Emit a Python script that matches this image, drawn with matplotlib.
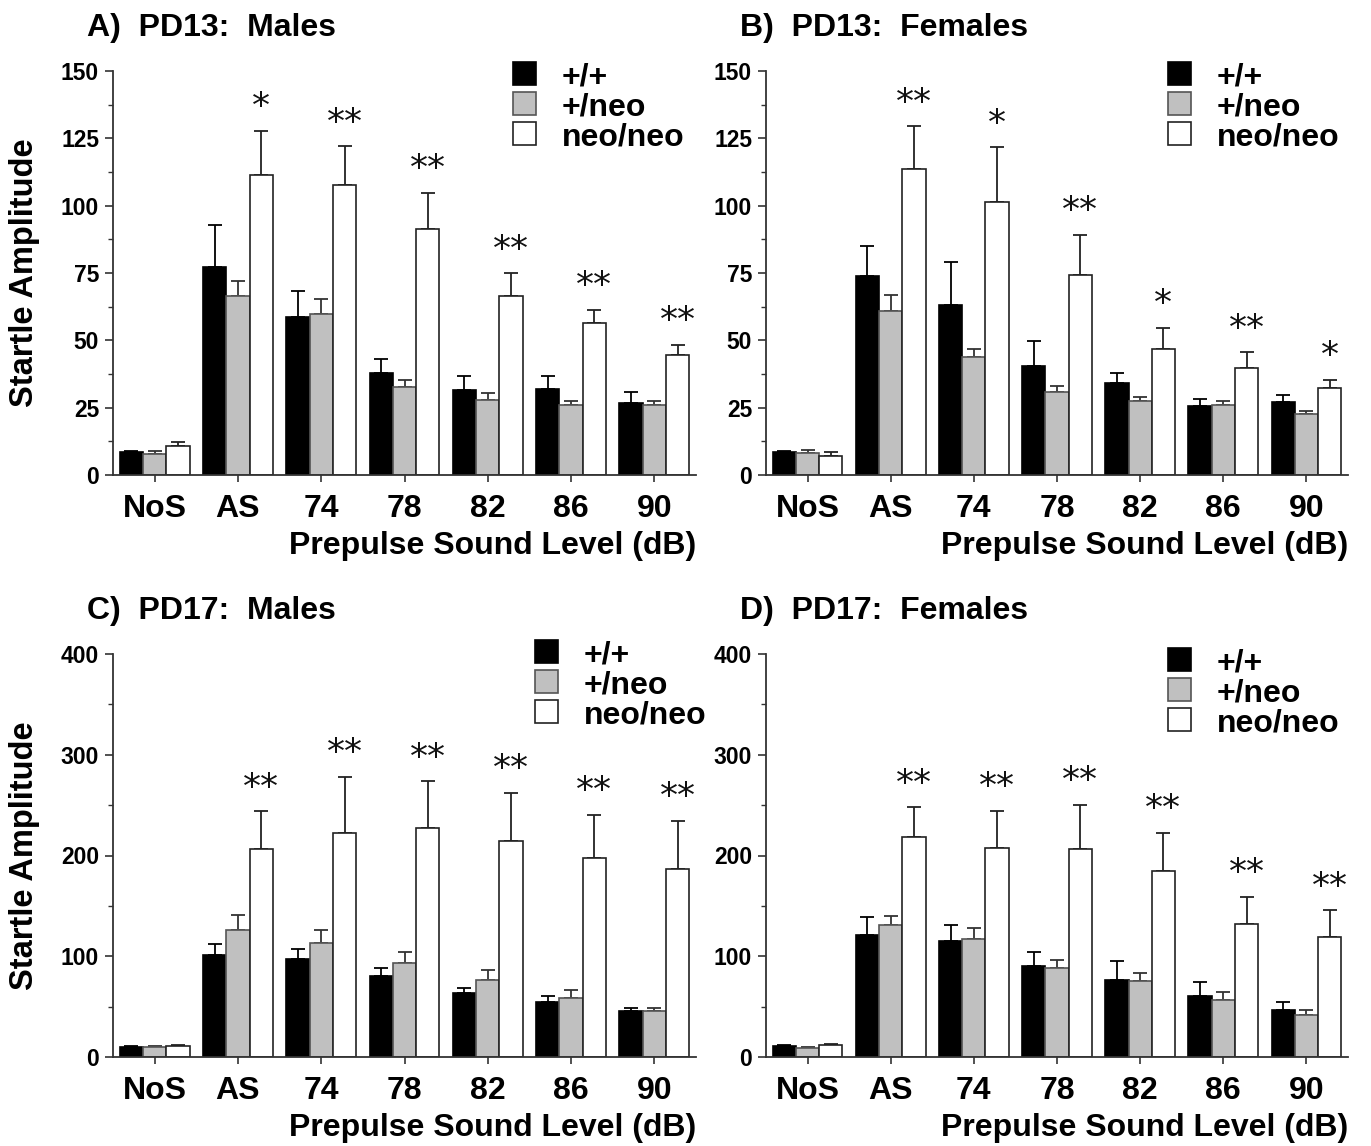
import matplotlib
matplotlib.use("Agg")
import matplotlib.pyplot as plt
import numpy as np
from matplotlib.ticker import MultipleLocator

plt.rcParams['font.family'] = ['Liberation Sans', 'DejaVu Sans']
plt.rcParams['font.weight'] = 'bold'

categories = ['NoS', 'AS', '74', '78', '82', '86', '90']
genotypes = ['+/+', '+/neo', 'neo/neo']

# Panel A: PD13 Males
A_wt = [8.5, 77.4, 58.7, 37.9, 31.5, 32.0, 26.6]
A_wt_err = [0.3, 15.6, 9.8, 5.0, 5.4, 4.9, 4.2]
A_het = [7.7, 66.4, 59.6, 32.8, 27.9, 25.9, 25.9]
A_het_err = [1.3, 5.5, 5.8, 2.6, 2.4, 1.7, 1.7]
A_hom = [10.8, 111.3, 107.5, 91.5, 66.4, 56.5, 44.4]
A_hom_err = [1.6, 16.4, 14.6, 13.2, 8.5, 4.9, 3.9]
A_sig = ['', '*', '**', '**', '**', '**', '**']

# Panel B: PD13 Females
B_wt = [8.5, 74.0, 63.2, 40.5, 34.1, 25.6, 27.1]
B_wt_err = [0.5, 11.2, 16.0, 9.3, 3.7, 2.8, 2.5]
B_het = [8.3, 60.9, 43.9, 30.8, 27.4, 25.9, 22.6]
B_het_err = [1.0, 5.9, 2.7, 2.2, 1.6, 1.5, 1.0]
B_hom = [7.2, 113.6, 101.5, 74.4, 46.6, 39.8, 32.3]
B_hom_err = [1.3, 15.8, 20.1, 14.8, 8.1, 5.8, 3.1]
B_sig = ['', '**', '*', '**', '*', '**', '*']

# Panel C: PD17 Males
C_wt = [10.0, 101.5, 97.2, 80.0, 63.5, 54.2, 45.3]
C_wt_err = [0.5, 10.5, 10.2, 8.3, 4.9, 6.6, 3.3]
C_het = [10.0, 126.3, 113.0, 93.2, 76.0, 58.2, 45.3]
C_het_err = [1.0, 14.2, 13.3, 10.6, 10.6, 8.6, 3.3]
C_hom = [11.2, 206.3, 222.8, 227.1, 213.9, 198.0, 186.4]
C_hom_err = [1.0, 37.7, 55.2, 46.6, 48.2, 42.3, 48.3]
C_sig = ['', '**', '**', '**', '**', '**', '**']

# Panel D: PD17 Females
D_wt = [10.6, 121.0, 114.7, 89.9, 76.7, 60.8, 46.9]
D_wt_err = [1.0, 17.5, 16.5, 13.9, 18.2, 13.2, 7.3]
D_het = [8.9, 131.2, 117.0, 87.9, 75.0, 56.9, 42.0]
D_het_err = [1.0, 8.3, 10.6, 8.0, 8.3, 7.9, 4.9]
D_hom = [11.6, 218.2, 207.3, 206.3, 185.1, 132.2, 119.0]
D_hom_err = [1.3, 29.7, 37.0, 44.3, 37.7, 26.5, 26.5]
D_sig = ['', '**', '**', '**', '**', '**', '**']

titles = ['A)  PD13:  Males', 'B)  PD13:  Females', 'C)  PD17:  Males', 'D)  PD17:  Females']

W, H = 1371, 1146
fig = plt.figure(figsize=(W / 100, H / 100), dpi=100)

def rect(l, r, t, b):
    return [l / W, 1 - b / H, (r - l) / W, (b - t) / H]

panels = [
    dict(pos=rect(113, 696, 71, 475), data=(A_wt, A_het, A_hom), err=(A_wt_err, A_het_err, A_hom_err),
         sig=A_sig, ymax=150, major=25, minor=12.5, title_xy=(87, 36), leg_xy=(513, 62), ylabel=True),
    dict(pos=rect(766, 1348, 71, 475), data=(B_wt, B_het, B_hom), err=(B_wt_err, B_het_err, B_hom_err),
         sig=B_sig, ymax=150, major=25, minor=12.5, title_xy=(740, 36), leg_xy=(1168, 62), ylabel=False),
    dict(pos=rect(113, 696, 654, 1057), data=(C_wt, C_het, C_hom), err=(C_wt_err, C_het_err, C_hom_err),
         sig=C_sig, ymax=400, major=100, minor=50, title_xy=(87, 619), leg_xy=(535, 640), ylabel=True),
    dict(pos=rect(766, 1348, 654, 1057), data=(D_wt, D_het, D_hom), err=(D_wt_err, D_het_err, D_hom_err),
         sig=D_sig, ymax=400, major=100, minor=50, title_xy=(740, 619), leg_xy=(1168, 648), ylabel=False),
]

face = ['black', '#c0c0c0', 'white']
edge = ['black', '#555555', '#222222']
ecol = ['black', '#333333', '#222222']
bw = 0.28
offsets = [-bw, 0, bw]
x = np.arange(len(categories))

for i, p in enumerate(panels):
    ax = fig.add_axes(p['pos'])
    handles = []
    for k in range(3):
        vals = np.array(p['data'][k])
        errs = np.array(p['err'][k])
        b = ax.bar(x + offsets[k], vals, width=bw, color=face[k], edgecolor=edge[k],
                   linewidth=1.2, label=genotypes[k], zorder=2)
        handles.append(b)
        ax.errorbar(x + offsets[k], vals, yerr=[np.zeros_like(errs), errs], fmt='none',
                    ecolor=ecol[k], elinewidth=1.3, capsize=5, capthick=1.3, zorder=1)
    hom = np.array(p['data'][2]) + np.array(p['err'][2])
    for j, s in enumerate(p['sig']):
        if s:
            ax.annotate(s, xy=(x[j] + offsets[2], hom[j]), xytext=(0, 17), textcoords='offset points',
                        ha='center', va='center', fontsize=26, fontweight='normal',
                        family='DejaVu Sans', color='#111111')
    ax.set_xlim(-0.5, len(categories) - 0.5)
    ax.set_ylim(0, p['ymax'])
    ax.yaxis.set_major_locator(MultipleLocator(p['major']))
    ax.yaxis.set_minor_locator(MultipleLocator(p['minor']))
    ax.set_xticks(x)
    ax.set_xticklabels(categories, fontsize=23, fontweight='bold')
    ax.tick_params(axis='x', length=5, width=1.2, pad=9, colors='#333333', labelcolor='black')
    ax.tick_params(axis='y', which='major', length=6, width=1.2, labelsize=16.5, pad=4,
                   colors='#333333', labelcolor='black')
    ax.tick_params(axis='y', which='minor', length=3.5, width=1.0, colors='#333333')
    for lab in ax.get_yticklabels():
        lab.set_fontweight('bold')
    for sp in ['top', 'right']:
        ax.spines[sp].set_visible(False)
    for sp in ['left', 'bottom']:
        ax.spines[sp].set_linewidth(1.3)
        ax.spines[sp].set_color('#333333')
    ax.set_xlabel('Prepulse Sound Level (dB)', fontsize=23, fontweight='bold', loc='right', labelpad=5)
    if p['ylabel']:
        ax.set_ylabel('Startle Amplitude', fontsize=23.5, fontweight='bold')
        ax.yaxis.set_label_coords(-0.125, 0.5)
    lx, ly = p['leg_xy']
    ax.legend(handles=handles, labels=genotypes, loc='upper left',
              bbox_to_anchor=(lx / W, 1 - ly / H), bbox_transform=fig.transFigure,
              frameon=False, handlelength=0.72, handleheight=0.72,
              handletextpad=0.8, labelspacing=0.0, borderpad=0, borderaxespad=0,
              prop={'weight': 'bold', 'size': 23})
    tx, ty = p['title_xy']
    fig.text(tx / W, 1 - ty / H, titles[i], fontsize=23, fontweight='bold', ha='left', va='baseline')

fig.savefig('out.png', dpi=100, facecolor='white')
